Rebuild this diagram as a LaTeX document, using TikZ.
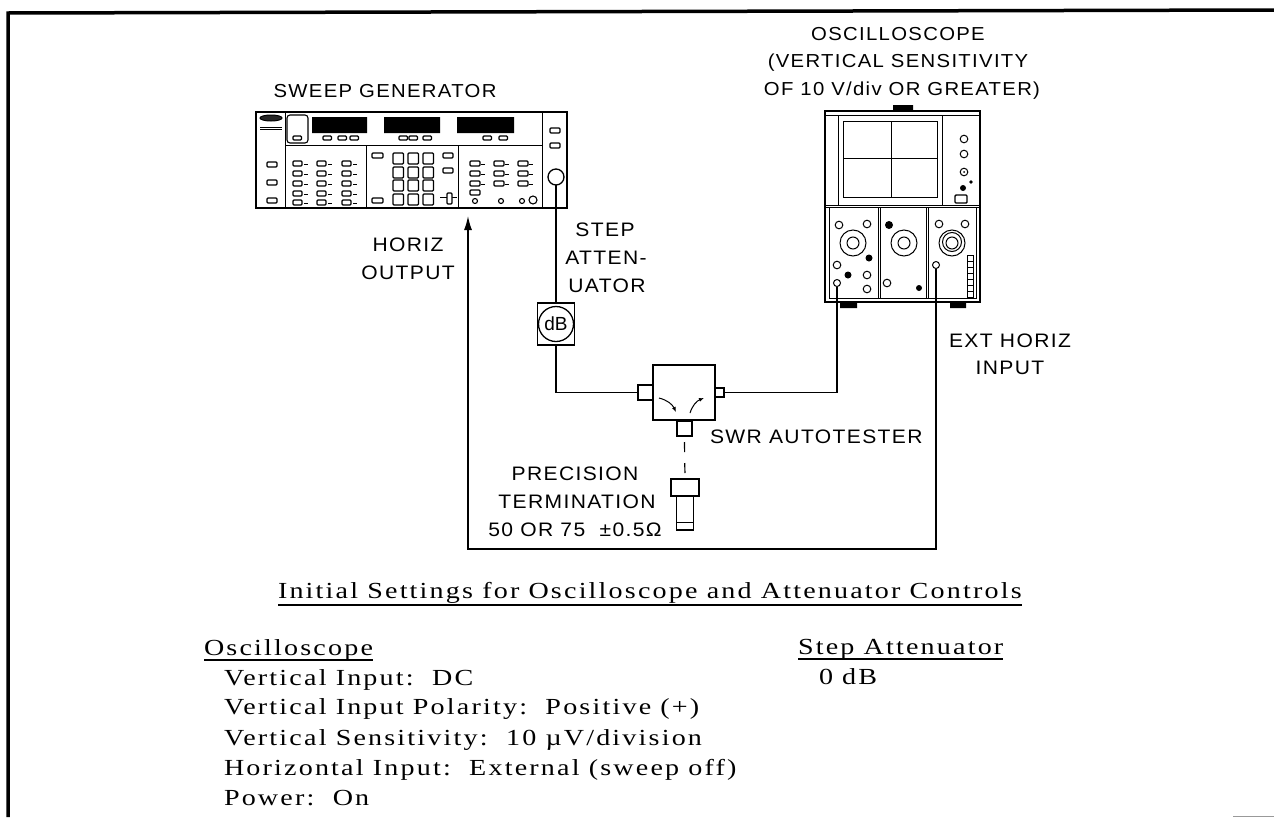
\documentclass[tikz,border=0pt]{standalone}
\usepackage{fontspec}
\setmainfont{Liberation Sans}
\newfontfamily\listfont[FakeStretch=1.22,LetterSpace=9.5]{Liberation Serif}
\newfontfamily\calloutfont[FakeStretch=1.08,LetterSpace=7]{Liberation Sans}
\usetikzlibrary{arrows.meta,positioning}

\begin{document}
\begin{tikzpicture}[x=1pt, y=-1pt, every node/.style={inner sep=0pt, outer sep=0pt}, device/.style={rectangle, draw=black, line width=1.5pt}, port/.style={rectangle, draw=black, line width=1.3pt}, dial/.style={circle, draw=black, line width=1pt, minimum size=7pt}, part/.style={draw=black, line width=1pt}, key/.style={draw=black, line width=1.1pt, rounded corners=1pt}, callout/.style={font=\fontsize{19.5}{22}\calloutfont, anchor=base}, headline/.style={font=\fontsize{18.8}{22}\calloutfont, anchor=base}, listing/.style={font=\fontsize{23}{26}\listfont, anchor=base west}, rule/.style={line width=1.1pt}, cable/.style={line width=1.7pt}, arrow/.style={-{Latex[length=14pt,width=8pt]}, line width=1.4pt}]
\useasboundingbox (0,0) rectangle (1274,817);
\draw[line width=3.5pt] (1274,10) -- (8,13) -- (8,817);
\draw[gray!80, line width=1pt] (1233,816) -- (1274,816);

\node[device, minimum width=311pt, minimum height=96pt] (generator) at (411.5,160) {};
\draw[part] (285,112) -- (285,208) (542,112) -- (542,208) (285,145) -- (542,145) (366,145) -- (366,208) (458,145) -- (458,208);
\fill (312,117) rectangle (367,133) (384,117) rectangle (440,133) (457,117) rectangle (514,133);
\draw[key, rounded corners=3pt] (287,115) rectangle (308,143);
\draw[part, fill=black!85] (271,118) ellipse (11pt and 3pt);
\draw[part] (260,127) -- (282,127) (260,129.5) -- (282,129.5);
\foreach \x in {293,323,338,350,399,409,423,483,499} \draw[key] (\x,136) rectangle +(8.5,4);
\foreach \y in {162,180,198} \draw[key] (267,\y) rectangle +(10,5);
\foreach \x in {293,317,342} \foreach \y in {161,171,181,191,200} {\draw[key] (\x,\y) rectangle +(9,5); \draw[line width=.6pt] (\x+11,\y+3) -- +(4,0);}
\foreach \x in {470,494,518} \foreach \y in {161,171,181} {\draw[key] (\x,\y) rectangle +(10,5); \draw[line width=.6pt] (\x+11,\y+3) -- +(4,0);}
\draw[key] (470,190) rectangle +(10,5);
\foreach \x in {393,408,423} \foreach \y in {153,167,180,194} \draw[key] (\x,\y) rectangle +(10.5,11);
\draw[key] (372,153) rectangle +(11,5) (372,198) rectangle +(11,5) (443,153) rectangle +(10,5) (443,168) rectangle +(10,5);
\draw[part] (440,197) -- (457,197);
\draw[key, fill=white] (447,193) rectangle (452,204);
\foreach \x in {475,501,522} \draw[line width=1.1pt] (\x,201) circle (2.5pt);
\draw[line width=1.1pt] (533,200) circle (4pt);
\draw[key] (550,128) rectangle +(10,5) (550,143) rectangle +(10,5);
\node[dial, minimum size=16pt, line width=1.3pt] (sweepout) at (556,177) {};

\node[device, minimum width=155pt, minimum height=191pt] (scope) at (902.5,206.5) {};
\fill (893,105) rectangle (913,110) (840,302) rectangle (857,308) (950,302) rectangle (966,308);
\draw[part] (825,115) -- (980,115) (838,115) -- (838,205) (942,115) -- (942,205) (825,205) -- (980,205) (825,207.5) -- (980,207.5) (829,207.5) -- (829,298) -- (976,298) -- (976,207.5);
\draw[part] (878,207.5) -- (878,298) (880,207.5) -- (880,298) (926,207.5) -- (926,298) (928,207.5) -- (928,298);
\draw[part] (843,121) rectangle (937,197) (891,121) -- (891,197) (843,158) -- (937,158);
\foreach \x/\y in {964/139,964/154,964/172,839/225,867/224,837/265,867/275,867/289,887/283,939/224,965/224} \draw[line width=1pt] (\x,\y) circle (3.8pt);
\foreach \x/\y/\r in {963/188/3,971/182/1.8,869/258/3.5,848/275/3.5,889/225/4,919/288/3} \fill (\x,\y) circle (\r pt);
\fill (964,172) circle (1pt);
\draw[key, line width=1.4pt] (955,195) rectangle (967,203);
\foreach \x in {853,904,952} {\draw[line width=1pt] (\x,243) circle (13pt) (\x,243) circle (6pt);}
\draw[line width=1pt] (952,242) circle (9.5pt);
\foreach \y in {255,261,267,273,279,285,291} \draw[line width=.9pt] (967,\y) rectangle +(6,6);
\node[dial] (vertin) at (837,283) {};
\node[dial] (horizin) at (936,265) {};

\node[device, minimum width=37pt, minimum height=42pt] (attenuator) at (556,324) {};
\node[dial, minimum size=35pt, line width=1.3pt, font=\fontsize{19}{22}\selectfont] (dbdial) at (556,324) {dB};

\node[device, minimum width=62pt, minimum height=55pt] (autotester) at (684,392.5) {};
\node[port, minimum width=15pt, minimum height=15pt] (inport) at (645.5,392.5) {};
\node[port, minimum width=9pt, minimum height=9pt] (outport) at (719.5,392.5) {};
\node[port, minimum width=15pt, minimum height=15pt] (testport) at (684.5,428.5) {};
\draw[-{Latex[length=5pt,width=4pt]}, line width=1pt] (659,398) to[bend left=25] (676,412);
\draw[-{Latex[length=5pt,width=4pt]}, line width=1pt] (690,413) to[bend left=25] (704,398);

\node[port, minimum width=28pt, minimum height=17pt] (termcap) at (685,487.5) {};
\node[port, minimum width=17pt, minimum height=34pt, below=0pt of termcap] (termbody) {};
\draw[part] (termbody.west |- 0,522) -- (termbody.east |- 0,522);

\draw[cable] (sweepout) -- (attenuator);
\draw[cable] (attenuator) |- (inport);
\draw[cable] (outport) -| (vertin);
\draw[line width=1.2pt, dash pattern=on 10pt off 11pt] (testport.south)+(0,6) -- (termcap.north);
\coordinate (horizbend) at (468,549);
\coordinate (horizend) at (468,216);
\draw[arrow] (horizin) |- (horizbend) -- (horizend);

\node[headline] (sweeplabel) at (385,97) {SWEEP GENERATOR};
\node[headline] (scopelabel) at (898,40) {OSCILLOSCOPE};
\node[headline] (scopelabelb) at (898,67) {(VERTICAL SENSITIVITY};
\node[headline] (scopelabelc) at (902,95) {OF 10 V/div OR GREATER)};
\node[callout] (steplabel) at (605,236) {STEP};
\node[callout] (steplabelb) at (606,264) {ATTEN-};
\node[callout] (steplabelc) at (607,292) {UATOR};
\node[callout] (horizlabel) at (408,251) {HORIZ};
\node[callout] (horizlabelb) at (408,279) {OUTPUT};
\node[callout] (extlabel) at (1010,347) {EXT HORIZ};
\node[callout] (extlabelb) at (1010,374) {INPUT};
\node[callout, anchor=base west] (swrlabel) at (710,443) {SWR AUTOTESTER};
\node[callout] (preclabel) at (575,480) {PRECISION};
\node[callout] (preclabelb) at (577,508) {TERMINATION};
\node[callout] (preclabelc) at (575,536) {50 OR 75\ \ ±0.5Ω};

\node[listing] (settings) at (278,598) {Initial Settings for Oscilloscope and Attenuator Controls};
\node[listing] (scopehead) at (204,655) {Oscilloscope};
\node[listing] (stephead) at (798,654) {Step Attenuator};
\node[listing] (stepzero) at (819,684) {0 dB};
\node[listing] (listone) at (224,685) {Vertical Input:\ \ DC};
\node[listing] (listtwo) at (224,714) {Vertical Input Polarity:\ \ Positive (+)};
\node[listing] (listthree) at (224,745) {Vertical Sensitivity:\ \ 10 µV/division};
\node[listing] (listfour) at (224,775) {Horizontal Input:\ \ External (sweep off)};
\node[listing] (listfive) at (224,805) {Power:\ \ On};
\draw[rule] ([yshift=-7pt]settings.base west) -- ([yshift=-7pt]settings.base east);
\draw[rule] ([yshift=-5pt]scopehead.base west) -- ([yshift=-5pt]scopehead.base east);
\draw[rule] ([yshift=-5pt]stephead.base west) -- ([yshift=-5pt]stephead.base east);
\end{tikzpicture}
\end{document}
